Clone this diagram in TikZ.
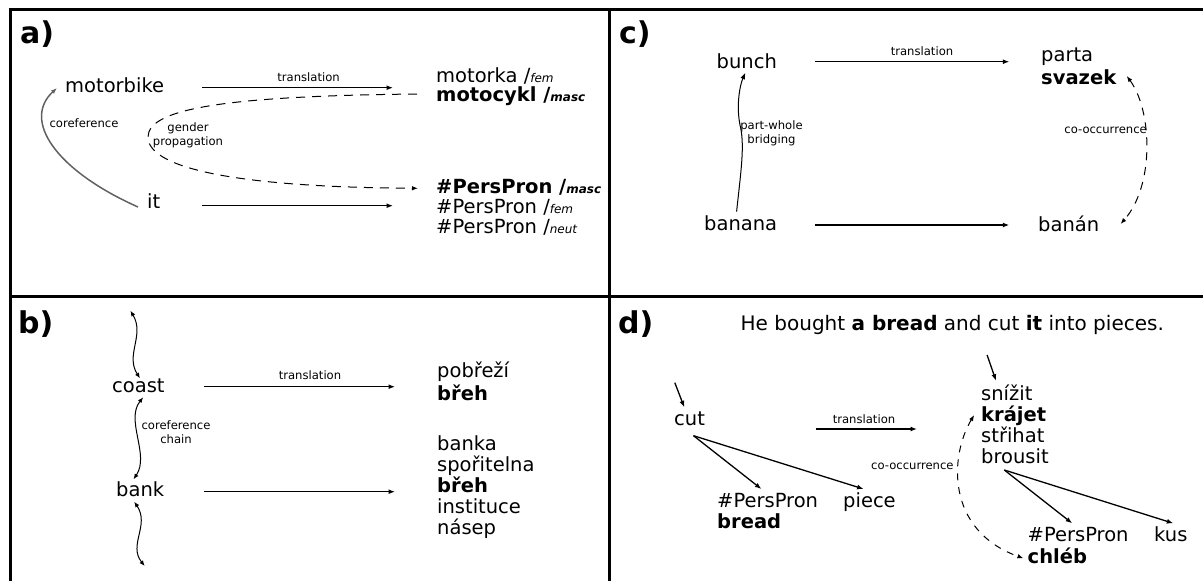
\documentclass[tikz,border=0pt]{standalone}
\usepackage{fontspec}
\setmainfont{DejaVu Sans}[
  BoldFont={DejaVu Sans Bold},
  ItalicFont={DejaVu Sans Oblique},
  BoldItalicFont={DejaVu Sans Bold Oblique}]
\usetikzlibrary{arrows.meta}

% gender tag after a word form: "/" followed by a small italic tag
\newcommand\gtag[1]{/{\fontsize{12}{12}\selectfont\itshape #1}}

\tikzset{
  frame/.style={line width=3pt, black},
  word/.style={anchor=base west, inner sep=0pt, font=\fontsize{19.5}{21}\selectfont},
  note/.style={inner sep=0pt, align=center, font=\fontsize{11.6}{14}\selectfont},
  plabel/.style={anchor=base west, inner sep=0pt, font=\fontsize{30}{30}\selectfont\bfseries},
  sent/.style={anchor=base west, inner sep=0pt, font=\fontsize{20}{24}\selectfont},
  arr/.style={-{Latex[length=6.5pt,width=5pt]}, line width=1.3pt},
  gray arr/.style={-{Latex[length=6pt,width=4.5pt]}, line width=1.5pt, color=black!62},
  dash arr/.style={-{Latex[length=6pt,width=4.5pt]}, line width=1pt, dash pattern=on 9pt off 7pt},
  dash both/.style={{Latex[length=6pt,width=4.5pt]}-{Latex[length=6pt,width=4.5pt]}, line width=1pt, dash pattern=on 8pt off 7pt},
  wave both/.style={{Latex[length=5.5pt,width=4.5pt]}-{Latex[length=5.5pt,width=4.5pt]}, line width=1pt},
}

\begin{document}
\begin{tikzpicture}[x=1pt,y=-1pt]
\useasboundingbox (0,0) rectangle (1203,581);

% panel grid
\draw[frame] (10,581) -- (10,9) -- (1203,9);
\draw[frame] (609.5,9) -- (609.5,581);
\draw[frame] (10,296) -- (1203,296);

% ---------------- panel a ----------------
\node[plabel] (la) at (20,43) {a)};
\node[word] (motorbike) at (65,92) {motorbike};
\node[word] (it) at (147,208) {it};
\node[word] (motorka) at (436,82) {motorka \gtag{fem}};
\node[word] (motocykl) at (436,101) {\bfseries motocykl \gtag{masc}};
\node[word] (ppmasc) at (436,193) {\bfseries\#PersPron \gtag{masc}};
\node[word] (ppfem) at (436,213) {\#PersPron \gtag{fem}};
\node[word] (ppneut) at (436,233) {\#PersPron \gtag{neut}};
\node[note] (a-tr) at (308.6,76.7) {translation};
\node[note] (a-gp) at (188,135.5) {gender\\propagation};
\node[note] (a-cr) at (84,123.3) {coreference};

\coordinate (a-mb-out) at (202,87.7);
\coordinate (a-mc-in) at (393,87.7);
\coordinate (a-it-out) at (202,205.7);
\coordinate (a-pp-in) at (393,205.7);
\coordinate (a-it-back) at (138,207);
\coordinate (a-mb-in) at (57,88);
\coordinate (a-mc-port) at (417,94);
\coordinate (a-ppm-in) at (418,188.3);

\draw[arr] (a-mb-out) -- (a-mc-in);
\draw[arr] (a-it-out) -- (a-pp-in);
\draw[gray arr] (a-it-back) .. controls (55,170) and (22,120) .. (a-mb-in);
\draw[dash arr] (a-mc-port) .. controls (230,96) and (148,108) .. (148,137)
  .. controls (148,165) and (220,187) .. (a-ppm-in);

% ---------------- panel c ----------------
\node[plabel] (lc) at (619,43) {c)};
\node[word] (bunch) at (716.5,68) {bunch};
\node[word] (banana) at (704,230) {banana};
\node[word] (parta) at (1041,61) {parta};
\node[word] (svazek) at (1041,84.3) {\bfseries svazek};
\node[word] (banan) at (1038,231) {banán};
\node[note] (c-tr) at (922,50.7) {translation};
\node[note] (c-pw) at (771.5,133) {part-whole\\bridging};
\node[note] (c-co) at (1105.6,130) {co-occurrence};

\coordinate (c-bu-out) at (814.8,61.7);
\coordinate (c-pa-in) at (1009.3,61.7);
\coordinate (c-ba-out) at (814.8,225);
\coordinate (c-bn-in) at (1009.3,225);
\coordinate (c-ba-up) at (736.6,211.7);
\coordinate (c-bu-down) at (745.3,72.7);
\coordinate (c-sv-port) at (1126.7,76);
\coordinate (c-bn-port) at (1120.6,224);

\draw[arr] (c-bu-out) -- (c-pa-in);
\draw[arr] (c-ba-out) -- (c-bn-in);
\draw[arr, line width=1pt] (c-ba-up) .. controls (741,170) and (745,145) .. (740,125)
  .. controls (736,105) and (740,85) .. (c-bu-down);
\draw[dash both] (c-sv-port) .. controls (1152,110) and (1155,185) .. (c-bn-port);

% ---------------- panel b ----------------
\node[plabel] (lb) at (18,333.3) {b)};
\node[word] (coast) at (112,392.7) {coast};
\node[word] (bank) at (116,496) {bank};
\node[word] (pobrezi) at (437,377.3) {pobřeží};
\node[word] (breh1) at (437,400) {\bfseries břeh};
\node[word] (banka) at (437,450.7) {banka};
\node[word] (sporitelna) at (437,471.5) {spořitelna};
\node[word] (breh2) at (437,492.5) {\bfseries břeh};
\node[word] (instituce) at (437,513.5) {instituce};
\node[word] (nasep) at (437,534.5) {násep};
\node[note] (b-tr) at (310,375) {translation};
\node[note] (b-cc) at (176,432.5) {coreference\\chain};

\coordinate (b-co-out) at (204.3,386.7);
\coordinate (b-po-in) at (395,386.7);
\coordinate (b-bk-out) at (204.3,491.7);
\coordinate (b-bl-in) at (395,491.7);
\coordinate (b-prev) at (130.4,310.7);
\coordinate (b-co-top) at (140,378.3);
\coordinate (b-co-bot) at (143.2,397.3);
\coordinate (b-bk-top) at (133.5,479.3);
\coordinate (b-bk-bot) at (134.2,501.7);
\coordinate (b-next) at (144.7,566);

\draw[arr] (b-co-out) -- (b-po-in);
\draw[arr] (b-bk-out) -- (b-bl-in);
\draw[wave both] (b-prev) .. controls (145,335) and (125,355) .. (b-co-top);
\draw[wave both] (b-co-bot) .. controls (125,420) and (150,455) .. (b-bk-top);
\draw[wave both] (b-bk-bot) .. controls (150,525) and (128,545) .. (b-next);

% ---------------- panel d ----------------
\node[plabel] (ld) at (618,333) {d)};
\node[sent] (sentence) at (740.5,330) {He bought \textbf{a bread} and cut \textbf{it} into pieces.};
\node[word] (cut) at (674,425) {cut};
\node[word] (ppen) at (717,507.3) {\#PersPron};
\node[word] (bread) at (717,528.3) {\bfseries bread};
\node[word] (piece) at (843,507.3) {piece};
\node[word] (snizit) at (981,400) {snížit};
\node[word] (krajet) at (981,421) {\bfseries krájet};
\node[word] (strihat) at (981,442) {střihat};
\node[word] (brousit) at (981,463) {brousit};
\node[word] (ppcs) at (1027.5,541.7) {\#PersPron};
\node[word] (chleb) at (1027.5,563.3) {\bfseries chléb};
\node[word] (kus) at (1154,541.7) {kus};
\node[note] (d-tr) at (864,419) {translation};
\node[note] (d-co) at (912.4,466.7) {co-occurrence};

\coordinate (d-cut-head) at (674.8,382.7);
\coordinate (d-cut-in) at (684.3,407.3);
\coordinate (d-tr-s) at (815.5,429);
\coordinate (d-tr-e) at (917,429);
\coordinate (d-cut-out) at (693.5,435.7);
\coordinate (d-pp-in) at (761.4,489);
\coordinate (d-pi-in) at (863.6,489);
\coordinate (d-sn-head) at (987.1,355);
\coordinate (d-sn-in) at (996,380.7);
\coordinate (d-br-out) at (1004.3,470);
\coordinate (d-ppcs-in) at (1072.2,523.3);
\coordinate (d-kus-in) at (1173.3,523.3);
\coordinate (d-kr-port) at (974.2,415);
\coordinate (d-ch-port) at (1023.4,558.3);

\draw[arr] (d-cut-head) -- (d-cut-in);
\draw[arr] (d-tr-s) -- (d-tr-e);
\draw[arr] (d-cut-out) -- (d-pp-in);
\draw[arr] (d-cut-out) -- (d-pi-in);
\draw[arr] (d-sn-head) -- (d-sn-in);
\draw[arr] (d-br-out) -- (d-ppcs-in);
\draw[arr] (d-br-out) -- (d-kus-in);
\draw[dash both, dash pattern=on 7pt off 7pt] (d-kr-port) .. controls (950,455) and (945,530) .. (d-ch-port);
\end{tikzpicture}
\end{document}
